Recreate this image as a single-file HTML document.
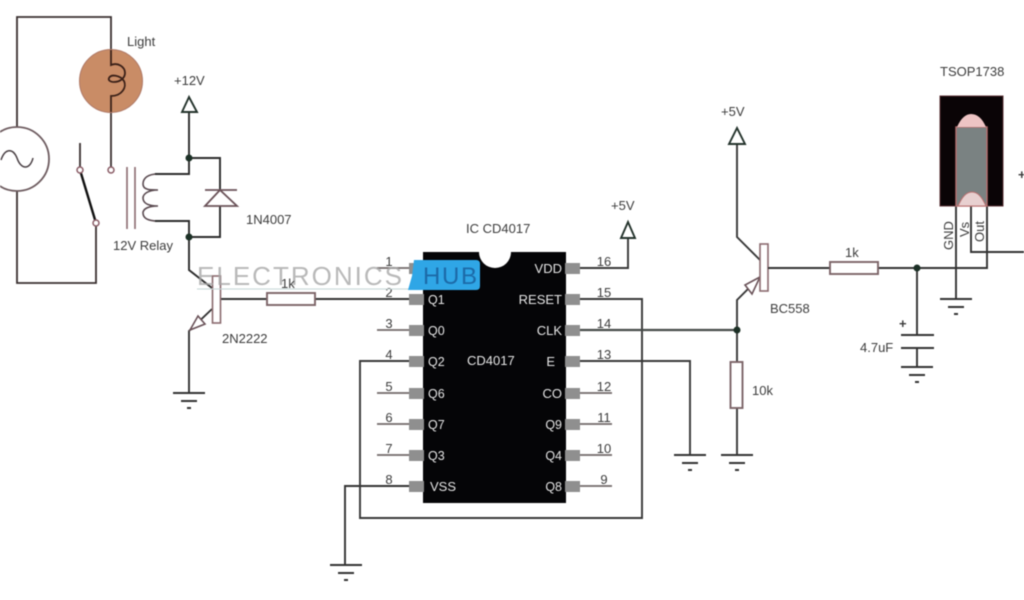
<!DOCTYPE html>
<html>
<head>
<meta charset="utf-8">
<style>
html,body{margin:0;padding:0;background:#fff;width:1024px;height:600px;overflow:hidden}
svg{display:block;filter:blur(0.45px)}
text{font-family:"Liberation Sans",sans-serif;fill:#3c3c3c;font-size:13px}
.n{font-size:13px;text-anchor:middle}
.w{fill:#e6e6e6;font-size:13px}
.q{fill:#e6e6e6;font-size:12.5px}
.e{text-anchor:end}
.pin{fill:#8f8f8f}
</style>
</head>
<body>
<svg width="1024" height="600" viewBox="0 0 1024 600" xmlns="http://www.w3.org/2000/svg">
<rect width="1024" height="600" fill="#fff"/>

<!-- mains side wires -->
<g fill="none" stroke="#3a3030" stroke-width="1.8">
<path d="M17 127V17H111V168"/>
<path d="M17 191V283H96V226"/>
<path d="M80 143V167"/>
</g>
<circle cx="111" cy="81" r="31.500" fill="#c98c66" stroke="#b07a68" stroke-width="1"/>
<path d="M111 50V65C118 62 125 67 125 73C125 78 120 82 114 82C110 82 108 80 109 78C111 74 120 75 124 81C127 87 122 96 111 96V112" fill="none" stroke="#3a2018" stroke-width="1.8"/>
<circle cx="17" cy="159" r="32" fill="#fff" stroke="#6e5c60" stroke-width="1.8"/>
<path d="M1 160C5 148 13 148 17 158C21 170 30 170 33 158" fill="none" stroke="#4a4044" stroke-width="1.5"/>
<line x1="80" y1="170" x2="96" y2="223" stroke="#111" stroke-width="2.4"/>
<circle cx="80" cy="170" r="3" fill="#fff" stroke="#8a5c66" stroke-width="1.5"/>
<circle cx="96" cy="223" r="3" fill="#fff" stroke="#8a5c66" stroke-width="1.5"/>
<circle cx="111" cy="170" r="3" fill="#fff" stroke="#8a5c66" stroke-width="1.5"/>

<!-- relay -->
<path d="M127 167V229M135 167V229" fill="none" stroke="#8a6a6e" stroke-width="1.6"/>
<path d="M158 174C148 174 143 178 143 184C143 190 150 190 158 190C148 190 143 194 143 198C143 204 150 206 158 206C148 206 143 209 143 213C143 218 148 221 158 221" fill="none" stroke="#5a4a50" stroke-width="1.6"/>
<g fill="none" stroke="#2c2c2c" stroke-width="1.9">
<path d="M155 174H189V112"/>
<path d="M189 158H220V190"/>
<path d="M155 221H189V270L212 288"/>
<path d="M189 237H220V206"/>
</g>
<path d="M189 97L182 112H197Z" fill="#fff" stroke="#24332c" stroke-width="1.9"/>
<path d="M205 190H237" stroke="#6a5258" stroke-width="1.8" fill="none"/>
<path d="M220 190L205 206H237Z" fill="#fff" stroke="#6a5258" stroke-width="1.8"/>
<circle cx="189" cy="158" r="3.500" fill="#1c3026"/>
<circle cx="189" cy="237" r="3.500" fill="#1c3026"/>

<!-- Q 2N2222 -->
<g fill="none" stroke="#333" stroke-width="1.9">
<path d="M221 299H268M315 299H410"/>
<path d="M189 393V331L212 309"/>
</g>
<path d="M190 330L205 324L198 316Z" fill="#fff" stroke="#6a5258" stroke-width="1.6"/>
<rect x="212.500" y="276" width="8" height="47" fill="#fff" stroke="#8a6a6e" stroke-width="1.6"/>
<rect x="267" y="293" width="48" height="12" fill="#fff" stroke="#7c6468" stroke-width="1.9"/>

<!-- grounds -->
<g fill="none" stroke="#333" stroke-width="1.9">
<path d="M173 393H205M181 401H197M187 408H191"/>
<path d="M345 565V486H409"/>
<path d="M330 565H362M338 573H354M344 580H348"/>
<path d="M674 455H706M682 463H698M688 470H692"/>
<path d="M721 455H753M729 463H745M735 470H739"/>
<path d="M940 299H972M948 307H964M954 314H958"/>
<path d="M901 367H933M909 375H925M915 382H919"/>
</g>

<!-- IC wiring -->
<g fill="none" stroke="#383838" stroke-width="1.9">
<path d="M409 361H360V518H642V299H580"/>
<path d="M580 361H690V455"/>
<path d="M580 268H628V238"/>
<path d="M737 144V237L760 260"/>
<path d="M760 277L737 300V362M737 408V455"/>
</g>
<path d="M580 330H737" stroke="#484c4a" stroke-width="2.300" fill="none"/>
<path d="M377 268H410M377 330H409M377 393H409M377 424H409M377 455H409" stroke="#706868" stroke-width="1.8" fill="none"/>
<path d="M580 393H612M580 424H612M580 455H612M580 486H612" stroke="#706868" stroke-width="1.8" fill="none"/>
<path d="M628 222L621 238H635Z" fill="#fff" stroke="#24332c" stroke-width="1.9"/>
<path d="M737 128L729 144H745Z" fill="#fff" stroke="#24332c" stroke-width="1.9"/>
<path d="M760 277L745 285L752 294Z" fill="#fff" stroke="#6a5258" stroke-width="1.6"/>
<circle cx="737" cy="330" r="3.500" fill="#1c3026"/>
<rect x="760" y="244" width="8" height="47" fill="#fff" stroke="#8a6a6e" stroke-width="1.6"/>
<rect x="730.500" y="362" width="12" height="46" fill="#fff" stroke="#7c6468" stroke-width="1.9"/>

<!-- IC body -->
<path d="M423 252H479A16 16 0 0 0 511 252H566V503H423Z" fill="#050507"/>
<g class="pin">
<rect x="409" y="263" width="15" height="11"/>
<rect x="409" y="294" width="15" height="11"/>
<rect x="409" y="325" width="15" height="11"/>
<rect x="409" y="356" width="15" height="11"/>
<rect x="409" y="388" width="15" height="11"/>
<rect x="409" y="419" width="15" height="11"/>
<rect x="409" y="450" width="15" height="11"/>
<rect x="409" y="481" width="15" height="11"/>
<rect x="565" y="263" width="15" height="11"/>
<rect x="565" y="294" width="15" height="11"/>
<rect x="565" y="325" width="15" height="11"/>
<rect x="565" y="356" width="15" height="11"/>
<rect x="565" y="388" width="15" height="11"/>
<rect x="565" y="419" width="15" height="11"/>
<rect x="565" y="450" width="15" height="11"/>
<rect x="565" y="481" width="15" height="11"/>
</g>
<text class="q" x="428" y="304">Q1</text>
<text class="q" x="428" y="335">Q0</text>
<text class="q" x="428" y="366">Q2</text>
<text class="q" x="428" y="398">Q6</text>
<text class="q" x="428" y="429">Q7</text>
<text class="q" x="428" y="460">Q3</text>
<text class="w" x="430" y="491">VSS</text>
<text class="w" x="467" y="365">CD4017</text>
<text class="w e" x="562" y="273">VDD</text>
<text class="w e" x="562" y="304">RESET</text>
<text class="w e" x="562" y="335">CLK</text>
<text class="w e" x="555" y="366">E</text>
<text class="w e" x="562" y="398">CO</text>
<text class="q e" x="562" y="429">Q9</text>
<text class="q e" x="562" y="460">Q4</text>
<text class="q e" x="562" y="491">Q8</text>

<!-- pin numbers -->
<text class="n" x="389" y="266">1</text>
<text class="n" x="389" y="297">2</text>
<text class="n" x="389" y="328">3</text>
<text class="n" x="389" y="359">4</text>
<text class="n" x="389" y="391">5</text>
<text class="n" x="389" y="422">6</text>
<text class="n" x="389" y="453">7</text>
<text class="n" x="389" y="484">8</text>
<text class="n" x="604" y="266">16</text>
<text class="n" x="604" y="297">15</text>
<text class="n" x="604" y="328">14</text>
<text class="n" x="604" y="359">13</text>
<text class="n" x="604" y="391">12</text>
<text class="n" x="604" y="422">11</text>
<text class="n" x="604" y="453">10</text>
<text class="n" x="604" y="484">9</text>

<!-- right side -->
<g fill="none" stroke="#333" stroke-width="1.9">
<path d="M768 268H830M878 268H987V206"/>
<path d="M956 206V299"/>
<path d="M971 206V252H1024"/>
<path d="M917 268V335M917 348V367"/>
<path d="M901 335H934M901 348H934"/>
</g>
<circle cx="917" cy="268" r="3.500" fill="#1c3026"/>
<rect x="830" y="262" width="48" height="12" fill="#fff" stroke="#7c6468" stroke-width="1.9"/>
<rect x="940" y="96" width="63" height="110" fill="#0a0406" stroke="#5a3034" stroke-width="1"/>
<rect x="956" y="127" width="31" height="79" fill="#7a8282" stroke="#b87070" stroke-width="1.4"/>
<path d="M957 127C961 118 966 114 971 114C977 114 982 118 986 127Z" fill="#eec4c4"/>
<path d="M958 206C962 197 966 192 972 192C978 192 982 197 986 206Z" fill="#e8d0d0" stroke="#b87070" stroke-width="1"/>

<!-- labels -->
<text x="127" y="46">Light</text>
<text x="174" y="85">+12V</text>
<text x="113" y="250">12V Relay</text>
<text x="246" y="224">1N4007</text>
<text x="222" y="343">2N2222</text>
<text x="466" y="233">IC CD4017</text>
<text x="611" y="210">+5V</text>
<text x="721" y="116">+5V</text>
<text x="770" y="313">BC558</text>
<text x="845" y="257">1k</text>
<text x="752" y="395">10k</text>
<text x="860" y="352">4.7uF</text>
<text x="899" y="328" style="font-weight:bold">+</text>
<text x="940" y="76">TSOP1738</text>
<text x="1018" y="179" style="font-weight:bold">+</text>
<text transform="translate(953,250) rotate(-90)">GND</text>
<text transform="translate(969,237) rotate(-90)">Vs</text>
<text transform="translate(984,242) rotate(-90)">Out</text>

<!-- watermark -->
<line x1="197" y1="289" x2="424" y2="289" stroke="#c4d4d4" stroke-width="1"/>
<text x="197" y="285" style="font-size:26px;fill:#a8a8a8;opacity:.8" textLength="205" lengthAdjust="spacing">ELECTRONICS</text>
<text x="281" y="288">1k</text>
<path d="M414 260H476Q480 260 480 264V286Q480 290 476 290H408L412 276Z" fill="#2fa6e6"/>
<text x="423" y="284" style="font-size:24px;fill:#1c6aa8" textLength="54" lengthAdjust="spacing">HUB</text>
</svg>
</body>
</html>
